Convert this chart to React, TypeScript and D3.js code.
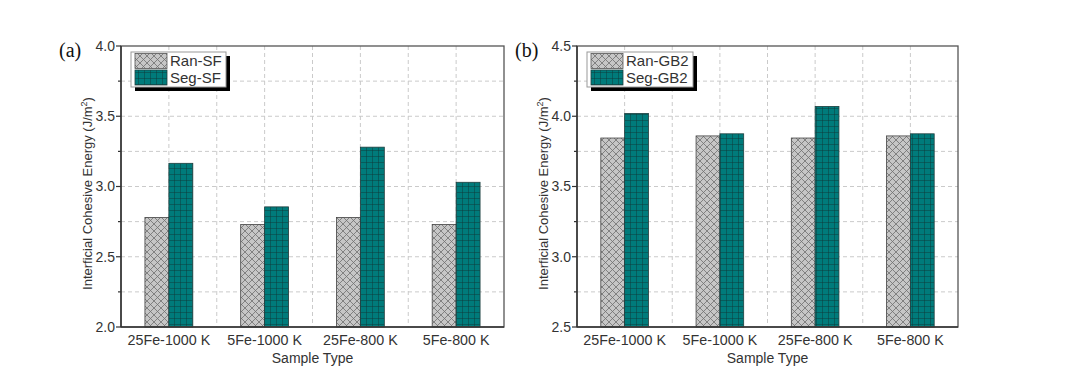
import React from "react";
import * as d3 from "d3";

const categories = ["25Fe-1000 K", "5Fe-1000 K", "25Fe-800 K", "5Fe-800 K"];
const ranSF = [2.78, 2.73, 2.78, 2.73];
const segSF = [3.165, 2.855, 3.28, 3.03];
const ranGB2 = [3.845, 3.86, 3.845, 3.86];
const segGB2 = [4.02, 3.875, 4.07, 3.875];
const ticksA = [2.0, 2.5, 3.0, 3.5, 4.0];
const ticksB = [2.5, 3.0, 3.5, 4.0, 4.5];

const W = 1080;
const H = 376;
const TOP = 46;
const BOTTOM = 327;
const FONT = "Arial, 'Liberation Sans', sans-serif";

type PanelProps = {
  x0: number;
  x1: number;
  domain: [number, number];
  ticks: number[];
  ran: number[];
  seg: number[];
  ranName: string;
  segName: string;
  label: string;
  legendW: number;
};

function Panel({ x0, x1, domain, ticks, ran, seg, ranName, segName, label, legendW }: PanelProps) {
  const y = d3.scaleLinear().domain(domain).range([BOTTOM, TOP]);
  const xb = d3.scaleBand().domain(categories).range([x0, x1]).padding(0);
  const bw = xb.bandwidth();
  const barW = bw / 4;
  const minorY = d3.range(domain[0], domain[1] + 1e-9, 0.25);
  const vGrid: number[] = [];
  categories.forEach((c, i) => {
    vGrid.push((xb(c) as number) + bw / 2);
    if (i < categories.length - 1) vGrid.push((xb(c) as number) + bw);
  });
  const fmt = d3.format(".1f");
  const lx = x0 + 10;
  const ly = 52;
  return (
    <g>
      {minorY.slice(1, -1).map((v, i) => (
        <line key={"hg" + i} x1={x0} x2={x1} y1={y(v)} y2={y(v)} stroke="#cacaca" strokeWidth={1} strokeDasharray="4,3" />
      ))}
      {vGrid.map((v, i) => (
        <line key={"vg" + i} x1={v} x2={v} y1={TOP} y2={BOTTOM} stroke="#cacaca" strokeWidth={1} strokeDasharray="4,3" />
      ))}
      {categories.map((c, i) => {
        const cx = (xb(c) as number) + bw / 2;
        return (
          <g key={"b" + i}>
            <rect x={cx - barW} y={y(ran[i])} width={barW} height={BOTTOM - y(ran[i])} fill="url(#crossPat)" stroke="#444" strokeWidth={0.8} />
            <rect x={cx} y={y(seg[i])} width={barW} height={BOTTOM - y(seg[i])} fill="url(#gridPat)" stroke="#1f3f3f" strokeWidth={0.8} />
          </g>
        );
      })}
      <rect x={x0} y={TOP} width={x1 - x0} height={BOTTOM - TOP} fill="none" stroke="#555" strokeWidth={1.3} />
      <line x1={x0} x2={x0} y1={TOP} y2={BOTTOM} stroke="#333" strokeWidth={1.5} />
      <line x1={x0} x2={x1} y1={BOTTOM} y2={BOTTOM} stroke="#333" strokeWidth={1.5} />
      {minorY.map((v, i) => {
        const major = ticks.some((t) => Math.abs(t - v) < 1e-9);
        return <line key={"yt" + i} x1={x0 - (major ? 5 : 3)} x2={x0} y1={y(v)} y2={y(v)} stroke="#333" strokeWidth={1.2} />;
      })}
      {ticks.map((t, i) => (
        <text key={"yl" + i} x={x0 - 6} y={y(t)} dy="0.35em" textAnchor="end" fontSize={14} fontFamily={FONT} fill="#333">
          {fmt(t)}
        </text>
      ))}
      {categories.map((c, i) => (
        <text key={"xl" + i} x={(xb(c) as number) + bw / 2} y={BOTTOM + 18} textAnchor="middle" fontSize={14.3} fontFamily={FONT} fill="#333">
          {c}
        </text>
      ))}
      <text x={(x0 + x1) / 2} y={BOTTOM + 36} textAnchor="middle" fontSize={14} fontFamily={FONT} fill="#333">
        Sample Type
      </text>
      <text transform={`translate(${x0 - 29},${(TOP + BOTTOM) / 2 + 7}) rotate(-90)`} textAnchor="middle" fontSize={13} fontFamily={FONT} fill="#333">
        Interficial Cohesive Energy (J/m<tspan dy={-5} fontSize={9}>2</tspan><tspan dy={5}>)</tspan>
      </text>
      <text x={x0 - 62} y={57} fontSize={20} fontFamily="'Times New Roman', 'Liberation Serif', serif" fill="#111">
        {label}
      </text>
      <rect x={lx + 4} y={ly + 4} width={legendW} height={35} fill="#000" />
      <rect x={lx} y={ly} width={legendW} height={35} fill="#fff" stroke="#999" strokeWidth={1} />
      <rect x={lx + 4} y={ly + 1.5} width={32} height={15} fill="url(#crossPat)" stroke="#555" strokeWidth={0.8} />
      <rect x={lx + 4} y={ly + 18} width={32} height={15} fill="url(#gridPat)" stroke="#1f3f3f" strokeWidth={0.8} />
      <text x={lx + 39} y={ly + 14} fontSize={15} fontFamily={FONT} fill="#333">{ranName}</text>
      <text x={lx + 39} y={ly + 31} fontSize={15} fontFamily={FONT} fill="#333">{segName}</text>
    </g>
  );
}

export default function App() {
  return (
    <svg width={W} height={H} style={{ display: "block", position: "absolute", left: 0, top: 0 }}>
      <defs>
        <pattern id="crossPat" patternUnits="userSpaceOnUse" width={7} height={7}>
          <rect width={7} height={7} fill="#c6c6c6" />
          <path d="M0,0 L7,7 M7,0 L0,7" stroke="#707070" strokeWidth={0.8} />
        </pattern>
        <pattern id="gridPat" patternUnits="userSpaceOnUse" width={6} height={6}>
          <rect width={6} height={6} fill="#007b7b" />
          <path d="M0,0 L6,0 M0,0 L0,6" stroke="#0f3434" strokeWidth={0.9} />
        </pattern>
      </defs>
      <rect width={W} height={H} fill="#fff" />
      <Panel x0={121} x1={504} domain={[2.0, 4.0]} ticks={ticksA} ran={ranSF} seg={segSF} ranName="Ran-SF" segName="Seg-SF" label="(a)" legendW={95} />
      <Panel x0={577} x1={958} domain={[2.5, 4.5]} ticks={ticksB} ran={ranGB2} seg={segGB2} ranName="Ran-GB2" segName="Seg-GB2" label="(b)" legendW={106} />
    </svg>
  );
}
